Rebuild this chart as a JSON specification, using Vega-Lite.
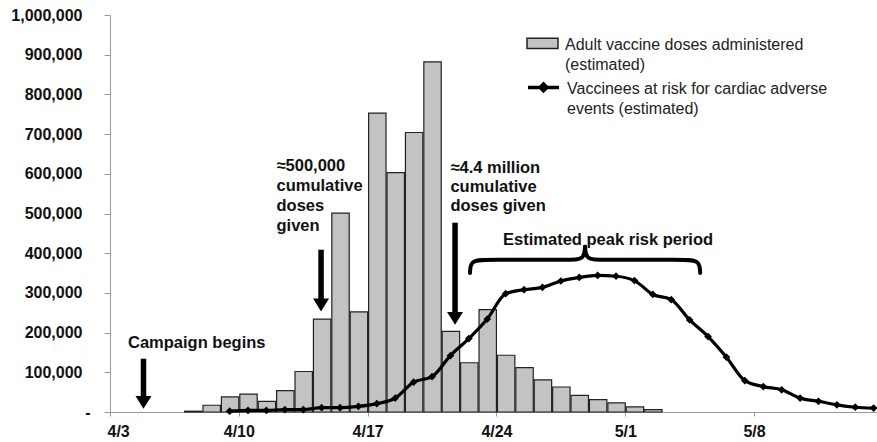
{
  "$schema": "https://vega.github.io/schema/vega-lite/v6.json",
  "width": 767,
  "height": 397,
  "autosize": {"type": "none"},
  "padding": {"left": 110, "top": 15, "right": 0, "bottom": 30},
  "background": "white",
  "config": {
    "view": {"stroke": null},
    "font": "Liberation Sans",
    "axis": {"labelFont": "Liberation Sans", "labelFontWeight": "bold", "labelFontSize": 16, "labelColor": "#111", "domainColor": "#9a9a9a", "tickColor": "#9a9a9a", "grid": false, "title": null},
    "legend": {"labelFont": "Liberation Sans", "labelFontSize": 16, "labelColor": "#222", "padding": 0, "title": null}
  },
  "datasets": {
    "doses": [
      {"date": "2003-04-07T00:00:00", "doses": 2000},
      {"date": "2003-04-08T00:00:00", "doses": 17000},
      {"date": "2003-04-09T00:00:00", "doses": 38000},
      {"date": "2003-04-10T00:00:00", "doses": 45000},
      {"date": "2003-04-11T00:00:00", "doses": 27000},
      {"date": "2003-04-12T00:00:00", "doses": 54000},
      {"date": "2003-04-13T00:00:00", "doses": 102000},
      {"date": "2003-04-14T00:00:00", "doses": 234000},
      {"date": "2003-04-15T00:00:00", "doses": 501000},
      {"date": "2003-04-16T00:00:00", "doses": 252000},
      {"date": "2003-04-17T00:00:00", "doses": 753000},
      {"date": "2003-04-18T00:00:00", "doses": 603000},
      {"date": "2003-04-19T00:00:00", "doses": 704000},
      {"date": "2003-04-20T00:00:00", "doses": 882000},
      {"date": "2003-04-21T00:00:00", "doses": 203000},
      {"date": "2003-04-22T00:00:00", "doses": 124000},
      {"date": "2003-04-23T00:00:00", "doses": 258000},
      {"date": "2003-04-24T00:00:00", "doses": 143000},
      {"date": "2003-04-25T00:00:00", "doses": 112000},
      {"date": "2003-04-26T00:00:00", "doses": 81000},
      {"date": "2003-04-27T00:00:00", "doses": 63000},
      {"date": "2003-04-28T00:00:00", "doses": 42000},
      {"date": "2003-04-29T00:00:00", "doses": 31000},
      {"date": "2003-04-30T00:00:00", "doses": 23000},
      {"date": "2003-05-01T00:00:00", "doses": 13000},
      {"date": "2003-05-02T00:00:00", "doses": 6000}
    ],
    "risk": [
      {"date": "2003-04-09T00:00:00", "risk": 2000},
      {"date": "2003-04-10T00:00:00", "risk": 4000},
      {"date": "2003-04-11T00:00:00", "risk": 4000},
      {"date": "2003-04-12T00:00:00", "risk": 6000},
      {"date": "2003-04-13T00:00:00", "risk": 6000},
      {"date": "2003-04-14T00:00:00", "risk": 11000},
      {"date": "2003-04-15T00:00:00", "risk": 11000},
      {"date": "2003-04-16T00:00:00", "risk": 14000},
      {"date": "2003-04-17T00:00:00", "risk": 21000},
      {"date": "2003-04-18T00:00:00", "risk": 35000},
      {"date": "2003-04-19T00:00:00", "risk": 75000},
      {"date": "2003-04-20T00:00:00", "risk": 89000},
      {"date": "2003-04-21T00:00:00", "risk": 142000},
      {"date": "2003-04-22T00:00:00", "risk": 185000},
      {"date": "2003-04-23T00:00:00", "risk": 234000},
      {"date": "2003-04-24T00:00:00", "risk": 298000},
      {"date": "2003-04-25T00:00:00", "risk": 308000},
      {"date": "2003-04-26T00:00:00", "risk": 314000},
      {"date": "2003-04-27T00:00:00", "risk": 330000},
      {"date": "2003-04-28T00:00:00", "risk": 339000},
      {"date": "2003-04-29T00:00:00", "risk": 344000},
      {"date": "2003-04-30T00:00:00", "risk": 342000},
      {"date": "2003-05-01T00:00:00", "risk": 331000},
      {"date": "2003-05-02T00:00:00", "risk": 296000},
      {"date": "2003-05-03T00:00:00", "risk": 283000},
      {"date": "2003-05-04T00:00:00", "risk": 232000},
      {"date": "2003-05-05T00:00:00", "risk": 190000},
      {"date": "2003-05-06T00:00:00", "risk": 138000},
      {"date": "2003-05-07T00:00:00", "risk": 79000},
      {"date": "2003-05-08T00:00:00", "risk": 64000},
      {"date": "2003-05-09T00:00:00", "risk": 56000},
      {"date": "2003-05-10T00:00:00", "risk": 35000},
      {"date": "2003-05-11T00:00:00", "risk": 27000},
      {"date": "2003-05-12T00:00:00", "risk": 18000},
      {"date": "2003-05-13T00:00:00", "risk": 12000},
      {"date": "2003-05-14T00:00:00", "risk": 10000}
    ],
    "labels": [
      {"date": "2003-04-03T23:30:00", "value": 174600, "text": "Campaign begins"},
      {"date": "2003-04-12T01:10:00", "value": 620400, "text": "≈500,000"},
      {"date": "2003-04-12T01:10:00", "value": 570000, "text": "cumulative"},
      {"date": "2003-04-12T01:10:00", "value": 519600, "text": "doses"},
      {"date": "2003-04-12T01:10:00", "value": 469300, "text": "given"},
      {"date": "2003-04-21T12:00:00", "value": 615400, "text": "≈4.4 million"},
      {"date": "2003-04-21T12:00:00", "value": 567500, "text": "cumulative"},
      {"date": "2003-04-21T12:00:00", "value": 519600, "text": "doses given"},
      {"date": "2003-04-24T08:40:00", "value": 434000, "text": "Estimated peak risk period"}
    ],
    "arrows": [
      {"date": "2003-04-04T19:40:00", "top": 134300, "head": 24400},
      {"date": "2003-04-14T11:16:00", "top": 408800, "head": 269500},
      {"date": "2003-04-21T18:00:00", "top": 476800, "head": 236000}
    ],
    "brace": [
      {"side": "left", "ord": 1, "date": "2003-04-22T13:34:00", "value": 350000},
      {"side": "left", "ord": 2, "date": "2003-04-22T14:00:00", "value": 384000},
      {"side": "left", "ord": 3, "date": "2003-04-23T15:36:00", "value": 383600},
      {"side": "left", "ord": 4, "date": "2003-04-28T00:00:00", "value": 383600},
      {"side": "left", "ord": 5, "date": "2003-04-28T18:14:00", "value": 383600},
      {"side": "left", "ord": 6, "date": "2003-04-28T19:34:00", "value": 416000},
      {"side": "right", "ord": 1, "date": "2003-04-28T19:34:00", "value": 416000},
      {"side": "right", "ord": 2, "date": "2003-04-28T20:53:00", "value": 383600},
      {"side": "right", "ord": 3, "date": "2003-04-29T15:07:00", "value": 383600},
      {"side": "right", "ord": 4, "date": "2003-05-03T23:31:00", "value": 383600},
      {"side": "right", "ord": 5, "date": "2003-05-05T01:10:00", "value": 384000},
      {"side": "right", "ord": 6, "date": "2003-05-05T01:41:00", "value": 350000}
    ]
  },
  "encoding": {
    "y": {
      "type": "quantitative",
      "scale": {"domain": [0, 1000000], "nice": false},
      "axis": {
        "values": [0, 100000, 200000, 300000, 400000, 500000, 600000, 700000, 800000, 900000, 1000000],
        "labelExpr": "datum.value === 0 ? '-' : format(datum.value, ',')",
        "tickSize": 6,
        "labelPadding": {"condition": {"test": "datum.value === 0", "value": 14}, "value": 22}
      }
    }
  },
  "layer": [
    {
      "data": {"name": "doses"},
      "mark": {"type": "bar", "stroke": "#222", "strokeWidth": 1.2},
      "encoding": {
        "x": {
          "field": "date", "type": "temporal", "timeUnit": "yearmonthdate",
          "scale": {"domain": [{"year": 2003, "month": 4, "date": 3}, {"year": 2003, "month": 5, "date": 14, "hours": 16, "minutes": 20}]},
          "axis": {
            "values": [{"year": 2003, "month": 4, "date": 3}, {"year": 2003, "month": 4, "date": 10}, {"year": 2003, "month": 4, "date": 17}, {"year": 2003, "month": 4, "date": 24}, {"year": 2003, "month": 5, "date": 1}, {"year": 2003, "month": 5, "date": 8}],
            "format": "%-m/%-d",
            "tickSize": 4,
            "labelPadding": 7,
            "labelFlush": true,
            "labelFlushOffset": 3
          }
        },
        "y": {"field": "doses"},
        "fill": {
          "datum": "Adult vaccine doses administered (estimated)",
          "type": "nominal",
          "scale": {"range": ["#c3c3c3"]},
          "legend": {
            "orient": "none", "legendX": 416, "legendY": 5,
            "symbolType": "M-1,0.12H1V0.78H-1Z",
            "symbolSize": 961,
            "symbolStrokeColor": "#222",
            "symbolStrokeWidth": 1.5,
            "labelOffset": 6,
            "labelBaseline": "top",
            "labelLimit": 400,
            "labelExpr": "['Adult vaccine doses administered', '(estimated)']",
            "encode": {"labels": {"update": {"lineHeight": {"value": 20}}}}
          }
        }
      }
    },
    {
      "data": {"name": "risk"},
      "mark": {"type": "line", "strokeWidth": 3.2, "interpolate": "monotone", "point": {"filled": true, "fill": "black", "shape": "diamond", "size": 24}},
      "encoding": {
        "x": {"field": "date", "type": "temporal", "timeUnit": "yearmonthdate", "bandPosition": 0.5},
        "y": {"field": "risk"},
        "stroke": {
          "datum": "Vaccinees at risk for cardiac adverse events (estimated)",
          "type": "nominal",
          "scale": {"range": ["#000000"]},
          "legend": {
            "orient": "none", "legendX": 416, "legendY": 48,
            "symbolType": "M-1,0.45H1M-0.22,0.45L0,0.23L0.22,0.45L0,0.67Z",
            "symbolSize": 961,
            "symbolStrokeWidth": 3.5,
            "symbolFillColor": "#000000",
            "labelOffset": 6,
            "labelBaseline": "top",
            "labelLimit": 400,
            "labelExpr": "['Vaccinees at risk for cardiac adverse', 'events (estimated)']",
            "encode": {"labels": {"update": {"lineHeight": {"value": 20}}}}
          }
        }
      }
    },
    {
      "data": {"name": "brace"},
      "mark": {"type": "line", "interpolate": "basis", "strokeWidth": 4, "strokeCap": "round", "color": "black"},
      "encoding": {
        "x": {"field": "date", "type": "temporal"},
        "y": {"field": "value", "type": "quantitative"},
        "detail": {"field": "side"},
        "order": {"field": "ord"}
      }
    },
    {
      "data": {"name": "arrows"},
      "mark": {"type": "rule", "strokeWidth": 5.5, "color": "black"},
      "encoding": {
        "x": {"field": "date", "type": "temporal"},
        "y": {"field": "top", "type": "quantitative"},
        "y2": {"field": "head"}
      }
    },
    {
      "data": {"name": "arrows"},
      "mark": {"type": "point", "filled": true, "color": "black", "opacity": 1, "shape": "M-1,-0.8L1,-0.8L0,0.8Z", "size": 256},
      "encoding": {
        "x": {"field": "date", "type": "temporal"},
        "y": {"field": "head", "type": "quantitative"}
      }
    },
    {
      "data": {"name": "labels"},
      "mark": {"type": "text", "align": "left", "baseline": "middle", "font": "Liberation Sans", "fontWeight": "bold", "fontSize": 16.5, "color": "#111"},
      "encoding": {
        "x": {"field": "date", "type": "temporal"},
        "y": {"field": "value", "type": "quantitative"},
        "text": {"field": "text"}
      }
    }
  ]
}
